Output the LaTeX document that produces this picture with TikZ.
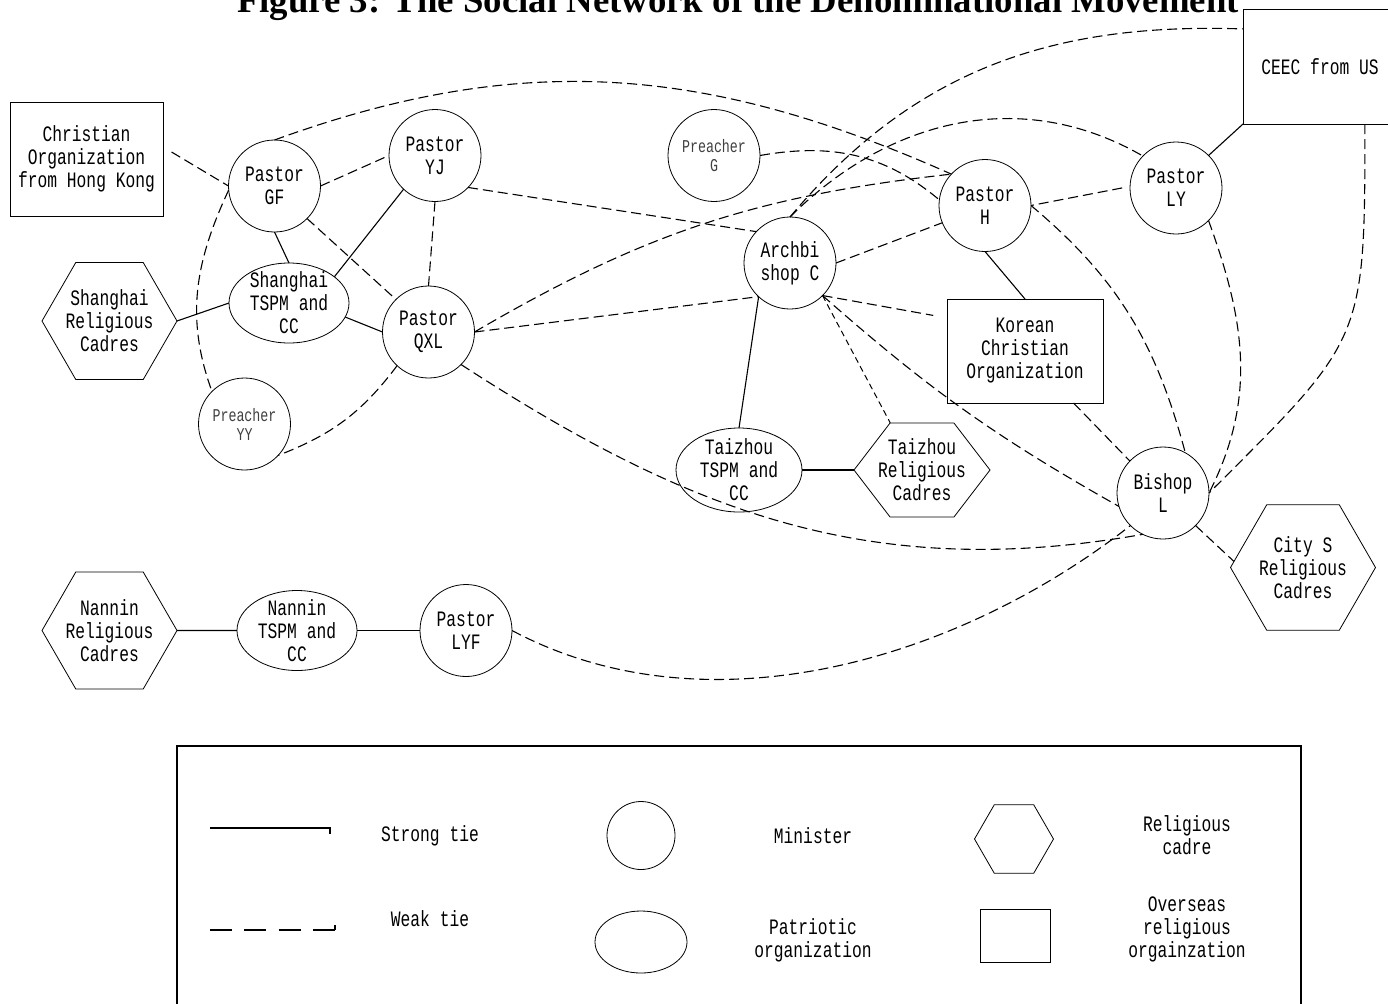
\documentclass[tikz,border=0pt]{standalone}
\usepackage{fontspec}
\usetikzlibrary{shapes.geometric,shapes.symbols}
\newfontfamily\netfont[FakeStretch=0.74]{Liberation Mono}
\newfontfamily\titlefont{Liberation Serif}
\begin{document}
\begin{tikzpicture}[x=0.5pt,y=0.5pt,
  every node/.style={inner sep=0pt,outer sep=0pt,align=center,font=\netfont\fontsize{11}{11.5}\selectfont},
  minister/.style={draw,circle,minimum size=46pt},
  preacher/.style={minister,font=\netfont\fontsize{9}{9.5}\selectfont,text=black!75},
  patriotic/.style={draw,ellipse,minimum width=60pt,minimum height=40pt,inner ysep=-5pt},
  cadre/.style={draw,regular polygon,regular polygon sides=6,minimum size=67.5pt,inner sep=-4pt},
  overseas/.style={draw,rectangle},
  strong/.style={line width=0.55pt},
  weak/.style={line width=0.55pt,dash pattern=on 5pt off 2.5pt},
  fineweak/.style={line width=0.5pt,dash pattern=on 3pt off 2pt}]
\path[use as bounding box] (0,0) rectangle (1388,-1003);
\clip (0,0) rectangle (1388,-1003);
\node[font=\titlefont\bfseries\fontsize{18.4}{20}\selectfont,anchor=base] (title) at (738,-12.5) {Figure 3: The Social Network of the Denominational Movement};

% actors
\node[overseas,minimum width=76.5pt,minimum height=57pt] (hk) at (86.5,-159) {Christian\\Organization\\from Hong Kong};
\node[minister] (gf) at (274.5,-186) {Pastor\\GF};
\node[minister] (yj) at (435,-155.5) {Pastor\\YJ};
\node[patriotic] (shtspm) at (289,-303) {Shanghai\\TSPM and\\CC};
\node[cadre] (shrc) at (109.5,-321) {Shanghai\\Religious\\Cadres};
\node[minister] (qxl) at (428.5,-332) {Pastor\\QXL};
\node[preacher] (yy) at (244.5,-424) {Preacher\\YY};
\node[preacher] (pg) at (714,-155.5) {Preacher\\G};
\node[minister] (ph) at (985,-205.5) {Pastor\\H};
\node[minister] (ly) at (1176,-188) {Pastor\\LY};
\node[overseas,minimum width=77pt,minimum height=57.5pt] (ceec) at (1320,-66.5) {CEEC from US};
\node[minister] (arch) at (790,-263) {Archbi\\shop C};
\node[overseas,minimum width=78pt,minimum height=52pt] (korea) at (1025,-351) {Korean\\Christian\\Organization};
\node[patriotic,minimum width=63pt,minimum height=42pt] (tztspm) at (739,-470) {Taizhou\\TSPM and\\CC};
\node[draw,signal,signal to=east and west,signal pointer angle=105,minimum width=68pt,minimum height=47pt,inner xsep=-8pt] (tzrc) at (922,-470) {Taizhou\\Religious\\Cadres};
\node[minister] (bishop) at (1163,-493) {Bishop\\L};
\node[cadre,minimum size=72.5pt] (citys) at (1303,-567.5) {City S\\Religious\\Cadres};
\node[cadre] (nnrc) at (109.5,-630.5) {Nannin\\Religious\\Cadres};
\node[patriotic] (nntspm) at (297,-630.5) {Nannin\\TSPM and\\CC};
\node[minister] (lyf) at (466,-630.5) {Pastor\\LYF};

% strong ties
\draw[strong] (gf.south) -- (shtspm.north);
\draw[strong] (yj.-133) -- (shtspm.30);
\draw[strong] (shrc.east) -- (shtspm.west);
\draw[strong] (shtspm.-14) -- (qxl.west);
\draw[strong] (arch.-133) -- (tztspm.north);
\draw[strong] (tztspm.east) -- (tzrc.west);
\draw[strong] (ph.south) -- (korea.north);
\draw[strong] (ly.45) -- (ceec.south west);
\draw[strong] (nnrc.east) -- (nntspm.west);
\draw[strong] (nntspm.east) -- (lyf.west);

% weak ties
\draw[weak,shorten <=5pt] (hk.9) -- (gf.180);
\draw[weak] (gf.east) -- (yj.west);
\draw[weak] (gf.-45) -- (qxl.135);
\draw[weak] (yj.south) -- (qxl.north);
\draw[weak] (gf.185) to[out=245,in=110] (yy.135);
\draw[weak] (qxl.-133) to[bend left=16] (yy.-43);
\draw[weak] (yj.-44) -- (arch.137);
\draw[weak] (qxl.east) -- (arch.-133);
\draw[weak] (qxl.east) to[bend left=12] (ph.137);
\draw[weak] (gf.north) to[out=20,in=156] (ph.137);
\draw[weak] (pg.east) to[out=10,in=140] (ph.173);
\draw[weak] (arch.east) -- (ph.-158);
\draw[weak,shorten >=7pt] (arch.-45) -- (korea.157);
\draw[fineweak] (arch.-45) -- (tzrc.124);
\draw[weak] (arch.-45) to[bend right=6] (bishop.-163);
\draw[weak] (arch.north) to[out=50,in=178] (ceec.154);
\draw[weak] (arch.north) to[out=45,in=150] (ly.136);
\draw[weak,shorten <=4pt] (ly.178) -- (ph.east);
\draw[weak] (korea.-47) -- (bishop.136);
\draw[weak] (ph.east) to[out=-40,in=105] (bishop.61);
\draw[weak] (ly.-45) to[out=-70,in=63] (bishop.east);
\draw[weak] (ceec.-52) to[out=-90,in=45,looseness=1.4] (bishop.east);
\draw[weak] (bishop.-45) -- (citys.175);
\draw[weak] (qxl.-45) to[out=-33,in=190] (bishop.-116);
\draw[weak] (lyf.east) to[out=-28,in=218,looseness=0.9] (bishop.-135);

% legend
\draw[strong] (177,-1010) -- (177,-746) -- (1301,-746) -- (1301,-1010);
\coordinate (s1) at (210,-828); \coordinate (s2) at (330,-828);
\draw[strong] (s1) -- (s2) -- ++(0,-6);
\coordinate (w1) at (210,-930); \coordinate (w2) at (335,-930);
\draw[line width=0.55pt,dash pattern=on 11pt off 6.17pt] (w1) -- (w2);
\draw[strong] (w2) -- ++(0,5);
\node (strongtxt) at (430,-836) {Strong tie};
\node (weaktxt) at (430,-919) {Weak tie};
\node[minister,minimum size=34pt] (minister) at (641,-835.5) {};
\node[draw,ellipse,minimum width=46pt,minimum height=31pt] (patriotic) at (641,-942) {};
\node (ministertxt) at (813,-836) {Minister};
\node (patriotictxt) at (813,-940) {Patriotic\\organization};
\node[cadre,minimum size=39.5pt] (cadre) at (1014,-839) {};
\node[overseas,minimum width=35pt,minimum height=26.5pt] (overseas) at (1015,-935.5) {};
\node (cadretxt) at (1187,-835) {Religious\\cadre};
\node (overseastxt) at (1187,-929) {Overseas\\religious\\orgainzation};
\end{tikzpicture}
\end{document}
